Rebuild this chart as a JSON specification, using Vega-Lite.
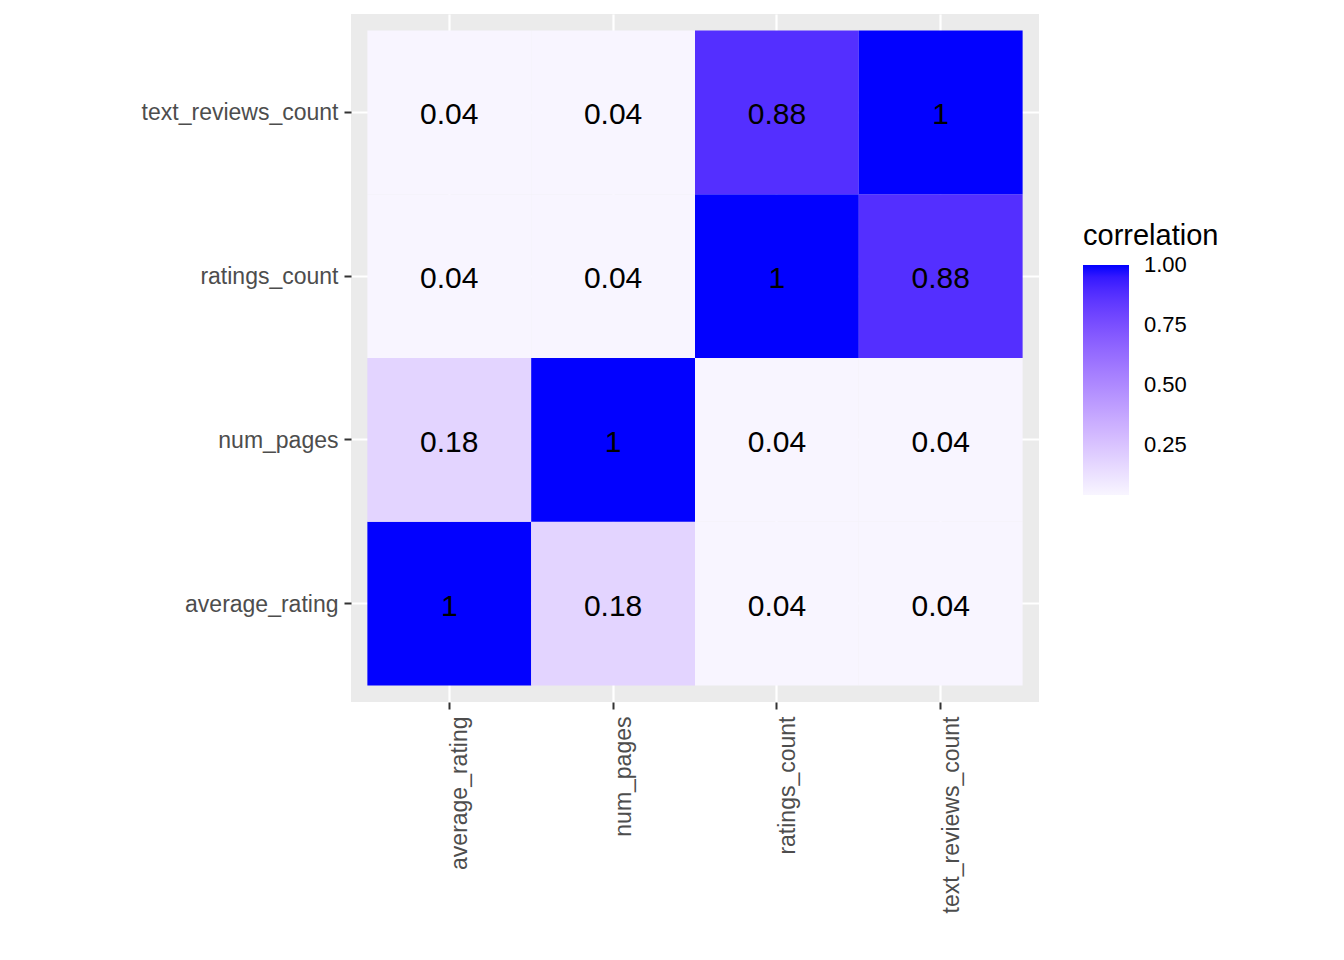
{
  "$schema": "https://vega.github.io/schema/vega-lite/v6.json",
  "autosize": "none",
  "width": 688,
  "height": 688,
  "padding": {"left": 351, "top": 14, "right": 305, "bottom": 258},
  "background": "white",
  "config": {
    "view": {"fill": "#EBEBEB", "stroke": null},
    "font": "Liberation Sans"
  },
  "data": {
    "values": [
      {"x": "average_rating", "y": "average_rating", "corr": 1},
      {"x": "num_pages", "y": "average_rating", "corr": 0.18},
      {"x": "ratings_count", "y": "average_rating", "corr": 0.04},
      {"x": "text_reviews_count", "y": "average_rating", "corr": 0.04},
      {"x": "average_rating", "y": "num_pages", "corr": 0.18},
      {"x": "num_pages", "y": "num_pages", "corr": 1},
      {"x": "ratings_count", "y": "num_pages", "corr": 0.04},
      {"x": "text_reviews_count", "y": "num_pages", "corr": 0.04},
      {"x": "average_rating", "y": "ratings_count", "corr": 0.04},
      {"x": "num_pages", "y": "ratings_count", "corr": 0.04},
      {"x": "ratings_count", "y": "ratings_count", "corr": 1},
      {"x": "text_reviews_count", "y": "ratings_count", "corr": 0.88},
      {"x": "average_rating", "y": "text_reviews_count", "corr": 0.04},
      {"x": "num_pages", "y": "text_reviews_count", "corr": 0.04},
      {"x": "ratings_count", "y": "text_reviews_count", "corr": 0.88},
      {"x": "text_reviews_count", "y": "text_reviews_count", "corr": 1}
    ]
  },
  "encoding": {
    "x": {
      "field": "x", "type": "nominal",
      "scale": {"domain": ["average_rating", "num_pages", "ratings_count", "text_reviews_count"], "paddingInner": 0, "paddingOuter": 0.1},
      "axis": {
        "title": null, "labelAngle": -90, "labelAlign": "right", "labelBaseline": "middle",
        "labelFontSize": 23, "labelColor": "#4D4D4D", "labelPadding": 7, "labelLimit": 0, "labelOffset": 11,
        "tickColor": "#333333", "tickSize": 7, "tickWidth": 2, "bandPosition": 0.5,
        "grid": true, "gridColor": "white", "gridWidth": 2.2, "domain": false, "zindex": 0
      }
    },
    "y": {
      "field": "y", "type": "nominal",
      "scale": {"domain": ["text_reviews_count", "ratings_count", "num_pages", "average_rating"], "paddingInner": 0, "paddingOuter": 0.1},
      "axis": {
        "title": null, "labelFontSize": 23, "labelColor": "#4D4D4D", "labelPadding": 6, "labelLimit": 0, "labelOffset": 1,
        "tickColor": "#333333", "tickSize": 7, "tickWidth": 2, "bandPosition": 0.5,
        "grid": true, "gridColor": "white", "gridWidth": 2.2, "domain": false, "zindex": 0
      }
    }
  },
  "layer": [
    {
      "mark": {"type": "rect"},
      "encoding": {
        "color": {
          "field": "corr", "type": "quantitative",
          "scale": {"domain": [0.04, 1.001], "range": ["#F8F5FF", "blue"], "interpolate": "lab"},
          "legend": {
            "title": "correlation", "orient": "none", "legendX": 732, "legendY": 208,
            "direction": "vertical", "gradientLength": 230, "gradientThickness": 46,
            "values": [0.25, 0.5, 0.75, 1], "format": ".2f",
            "titleFontSize": 29, "titleFontWeight": "normal", "titleColor": "black", "titlePadding": 14,
            "labelFontSize": 22, "labelColor": "black", "labelOffset": 15, "labelBaseline": "middle",
            "gradientStrokeWidth": 0
          }
        }
      }
    },
    {
      "mark": {"type": "text", "fontSize": 30, "color": "black", "dy": 3},
      "encoding": {"text": {"field": "corr", "type": "nominal"}}
    }
  ]
}
